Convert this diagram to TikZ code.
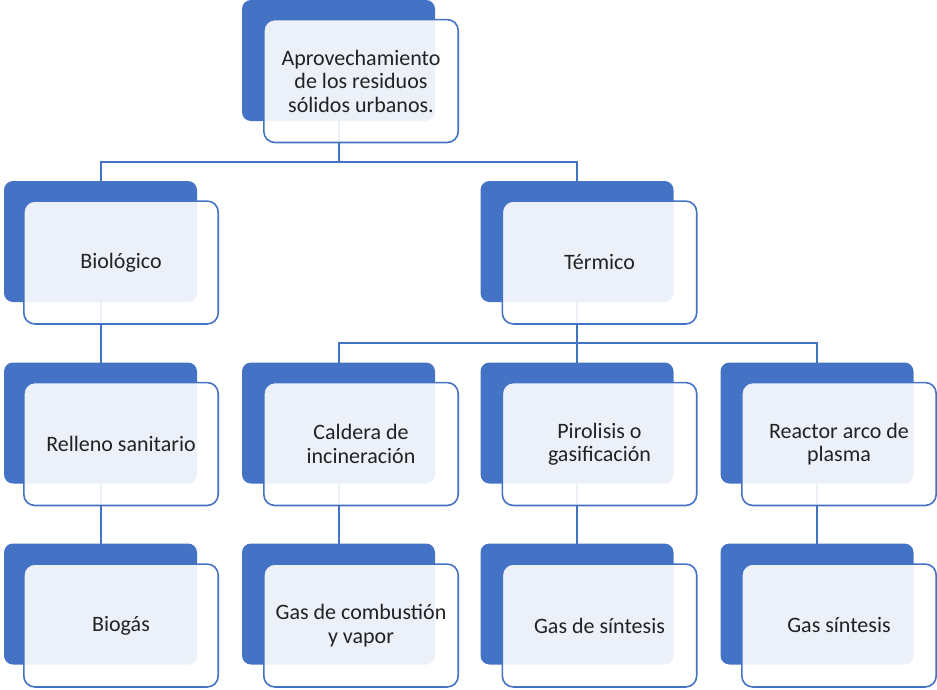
\documentclass[tikz,border=0pt]{standalone}
\usepackage{fontspec}
\setmainfont{Carlito}
\definecolor{sablue}{HTML}{4472C4}
\definecolor{txtc}{HTML}{222222}
\begin{document}
\begin{tikzpicture}[x=1pt,y=-1pt,
  back/.style={draw=none, fill=sablue, rounded corners=9pt, minimum width=193pt, minimum height=121pt, inner sep=0pt, outer sep=0pt},
  front/.style={draw=sablue, line width=1.6pt, fill=white, fill opacity=0.9, text opacity=1, rounded corners=11pt, minimum width=194.4pt, minimum height=122.9pt, inner sep=2pt, outer sep=0pt, align=center, text=txtc, font=\fontsize{22pt}{23.5pt}\selectfont},
  conn/.style={draw=sablue, line width=2pt}]
\useasboundingbox (0,0) rectangle (937,689);
% back boxes
\node[back] (topb) at (338.5,60.5) {};
\node[back] (biob) at (100.5,241.5) {};
\node[back] (termb) at (577,241.5) {};
\node[back] (relb) at (100.5,423) {};
\node[back] (calb) at (338.5,423) {};
\node[back] (pirb) at (577,423) {};
\node[back] (reab) at (817,423) {};
\node[back] (biogb) at (100.5,604) {};
\node[back] (gascb) at (338.5,604) {};
\node[back] (gassb) at (577,604) {};
\node[back] (gasrb) at (817,604) {};
% connectors
\draw[conn] (topb.south) -- (topb.south |- 0,162) -| (biob.north);
\draw[conn] (topb.south) -- (topb.south |- 0,162) -| (termb.north);
\draw[conn] (biob.south) -- (relb.north);
\draw[conn] (relb.south) -- (biogb.north);
\draw[conn] (termb.south) -- (termb.south |- 0,343) -| (calb.north);
\draw[conn] (termb.south) -- (pirb.north);
\draw[conn] (termb.south) -- (termb.south |- 0,343) -| (reab.north);
\draw[conn] (calb.south) -- (gascb.north);
\draw[conn] (pirb.south) -- (gassb.north);
\draw[conn] (reab.south) -- (gasrb.north);
% front boxes
\node[front] (top) at (361,81) {Aprovechamiento\\de los residuos\\sólidos urbanos.};
\node[front] (bio) at (121,262.5) {Biológico};
\node[front] (term) at (599.5,262.5) {Térmico};
\node[front] (rel) at (121,444) {Relleno sanitario};
\node[front] (cal) at (361,444) {Caldera de\\incineración};
\node[front] (pir) at (599.5,444) {Pirolisis o\\gasificación};
\node[front] (rea) at (839,444) {Reactor arco de\\plasma};
\node[front] (biog) at (121,625.5) {Biogás};
\node[front] (gasc) at (361,625.5) {Gas de combustión\\y vapor};
\node[front] (gass) at (599.5,625.5) {Gas de síntesis};
\node[front] (gasr) at (839,625.5) {Gas síntesis};
\end{tikzpicture}
\end{document}
